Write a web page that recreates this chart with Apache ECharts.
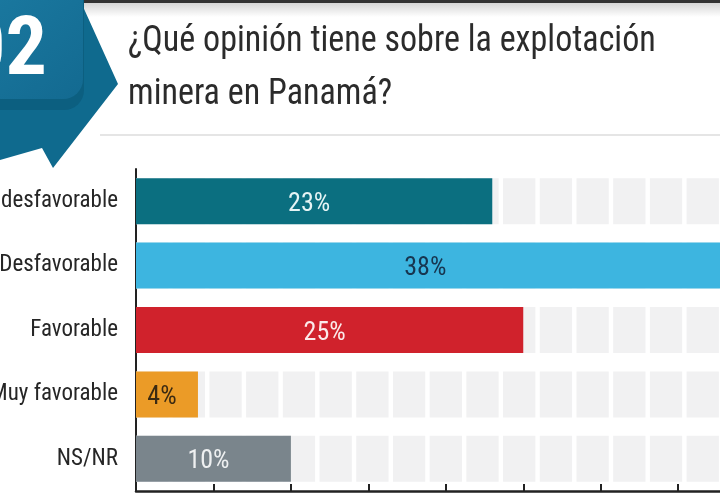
<!DOCTYPE html>
<html><head><meta charset="utf-8">
<script src="https://cdn.jsdelivr.net/npm/echarts@6/dist/echarts.min.js"></script>
<style>html,body{margin:0;padding:0;background:#fff}#c{width:720px;height:500px}</style>
</head><body><div id="c"></div>
<script>
const categories = ['Muy desfavorable', 'Desfavorable', 'Favorable', 'Muy favorable', 'NS/NR'];
const values = [23, 38, 25, 4, 10];
const valueLabels = ['23%', '38%', '25%', '4%', '10%'];
const trackValues = [39.64, 39.64, 39.64, 39.64, 39.64];
const axisMin = 0, axisMax = 40, axisStep = 5;
const titleText = '¿Qué opinión tiene sobre la explotación\nminera en Panamá?';
const badgeText = '02';

const barColors = ['#0b6f80', '#3db5e0', '#d0222c', '#eb9b27', '#7a858c'];
const labelColors = ['#e6f4f4', '#17354f', '#fbeaea', '#3b2a12', '#eef0f1'];
const FONT = "'Liberation Sans Narrow','Roboto Condensed','DejaVu Sans Condensed',sans-serif";

const chart = echarts.init(document.getElementById('c'), null, {renderer: 'canvas'});
chart.setOption({
  backgroundColor: '#ffffff',
  animation: false,
  graphic: [
    {type: 'rect', shape: {x: 0, y: 0, width: 720, height: 3}, style: {fill: '#333'}, z: 10},
    {type: 'rect', shape: {x: 0, y: 3, width: 720, height: 14},
      style: {fill: new echarts.graphic.LinearGradient(0, 0, 0, 1, [{offset: 0, color: '#d6d6d6'}, {offset: 1, color: '#ffffff'}])}, z: 10},
    {type: 'line', shape: {x1: 100, y1: 135, x2: 720, y2: 135}, style: {stroke: '#dcdcdc', lineWidth: 1.5}, z: 10},
    {type: 'text', x: 128, y: 15, scaleX: 0.92,
      style: {text: titleText, x: 0, y: 0, fontFamily: FONT, fontSize: 37, lineHeight: 53, fill: '#2b2b2b'}, z: 10},
    {type: 'polygon', shape: {points: [[0, 0], [80, 0], [118, 84], [53, 168], [42, 148], [0, 160]]}, style: {fill: '#0f6a8e'}, z: 11},
    {type: 'rect', shape: {x: -20, y: -20, width: 104, height: 130, r: 20}, style: {fill: '#0c5f80'}, z: 11},
    {type: 'rect', shape: {x: -20, y: -20, width: 103, height: 119, r: 20},
      style: {fill: new echarts.graphic.LinearGradient(0, 0, 1, 1, [{offset: 0, color: '#1b7aa1'}, {offset: 1, color: '#136a91'}])}, z: 11},
    {type: 'text', style: {text: badgeText, x: 47, y: 53, align: 'right', verticalAlign: 'middle', fontSize: 82, fontWeight: 'bold', fill: '#ffffff', fontFamily: FONT}, z: 12}
  ],
  grid: {left: 136, top: 169, bottom: 9, right: 720 - 136 - (axisMax - axisMin) * 15.49,
    containLabel: false, outerBoundsMode: 'none'},
  xAxis: {
    type: 'value', min: axisMin, max: axisMax, interval: axisStep,
    axisLine: {show: true, lineStyle: {color: '#222', width: 2.5}},
    axisTick: {show: true, inside: true, length: 7, lineStyle: {color: '#222', width: 2}},
    axisLabel: {show: false},
    splitLine: {show: false}
  },
  yAxis: {
    type: 'category', data: categories, inverse: true,
    axisLine: {show: true, lineStyle: {color: '#222', width: 2}},
    axisTick: {show: false},
    axisLabel: {fontFamily: FONT, fontSize: 23, color: '#262626', margin: 18}
  },
  series: [
    {
      type: 'pictorialBar', z: 1,
      data: trackValues,
      symbol: 'rect', symbolRepeat: 17, symbolSize: [32.3, 46], symbolMargin: 2,
      symbolClip: false,
      itemStyle: {color: '#f1f1f2'},
      silent: true
    },
    {
      type: 'bar', z: 3, barWidth: 46,
      data: values.map((v, i) => ({
        value: v,
        itemStyle: {color: barColors[i]},
        label: {formatter: valueLabels[i], color: labelColors[i]}
      })),
      label: {show: true, position: 'inside', offset: [-5, 3], fontFamily: FONT, fontSize: 26}
    }
  ]
});
</script></body></html>
